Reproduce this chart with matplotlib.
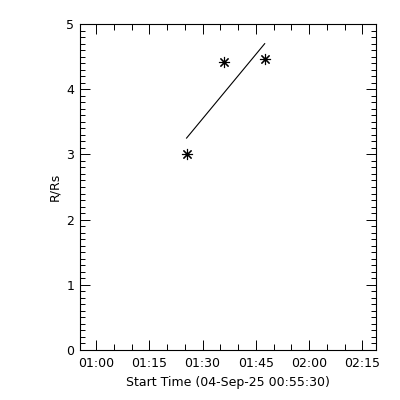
import datetime as dt

import matplotlib
matplotlib.use("Agg")
import matplotlib.dates as mdates
import matplotlib.pyplot as plt
import numpy as np

# data
start_time = "2025-09-04 00:55:30"
end_time = "2025-09-04 02:18:50"
obs_times = ["2025-09-04 01:25:30", "2025-09-04 01:36:00", "2025-09-04 01:47:30"]
heights = [3.00, 4.42, 4.47]

fmt = "%Y-%m-%d %H:%M:%S"
t0 = dt.datetime.strptime(start_time, fmt)
t1 = dt.datetime.strptime(end_time, fmt)
times = [dt.datetime.strptime(s, fmt) for s in obs_times]

# linear fit of height vs time (seconds)
secs = np.array([(t - t0).total_seconds() for t in times])
coef = np.polyfit(secs, heights, 1)
fit_secs = np.array([secs[0], secs[-1]])
fit_times = [t0 + dt.timedelta(seconds=float(s)) for s in fit_secs]
fit_vals = np.polyval(coef, fit_secs)

plt.rcParams["font.family"] = "DejaVu Sans"
fig = plt.figure(figsize=(4, 4), dpi=100)
ax = fig.add_axes([0.2, 0.125, 0.74, 0.815])

ax.plot(times, heights, linestyle="none", marker=(8, 2, 0), markersize=8,
        markeredgewidth=0.8, color="black")
ax.plot(fit_times, fit_vals, color="black", linewidth=0.8)

ax.set_xlim(t0, t1)
ax.set_ylim(0, 5)

ax.xaxis.set_major_locator(mdates.MinuteLocator(byminute=[0, 15, 30, 45]))
ax.xaxis.set_minor_locator(mdates.MinuteLocator(byminute=range(0, 60, 5)))
ax.xaxis.set_major_formatter(mdates.DateFormatter("%H:%M"))
ax.yaxis.set_major_locator(matplotlib.ticker.MultipleLocator(1))
ax.yaxis.set_minor_locator(matplotlib.ticker.MultipleLocator(0.1))

ax.tick_params(which="both", direction="in", top=True, right=True, width=0.7,
               labelsize=9)
ax.tick_params(axis="x", which="major", length=7, pad=5)
ax.tick_params(axis="x", which="minor", length=4)
ax.tick_params(axis="y", which="major", length=7, pad=4)
ax.tick_params(axis="y", which="minor", length=3.5)
for sp in ax.spines.values():
    sp.set_linewidth(0.8)

ax.set_xlabel("Start Time (04-Sep-25 00:55:30)", fontsize=9)
ax.xaxis.set_label_coords(0.5, -0.08)
ax.set_ylabel("R/Rs", fontsize=9)
ax.yaxis.set_label_coords(-0.065, 0.5)

fig.savefig("out.png", dpi=100)
